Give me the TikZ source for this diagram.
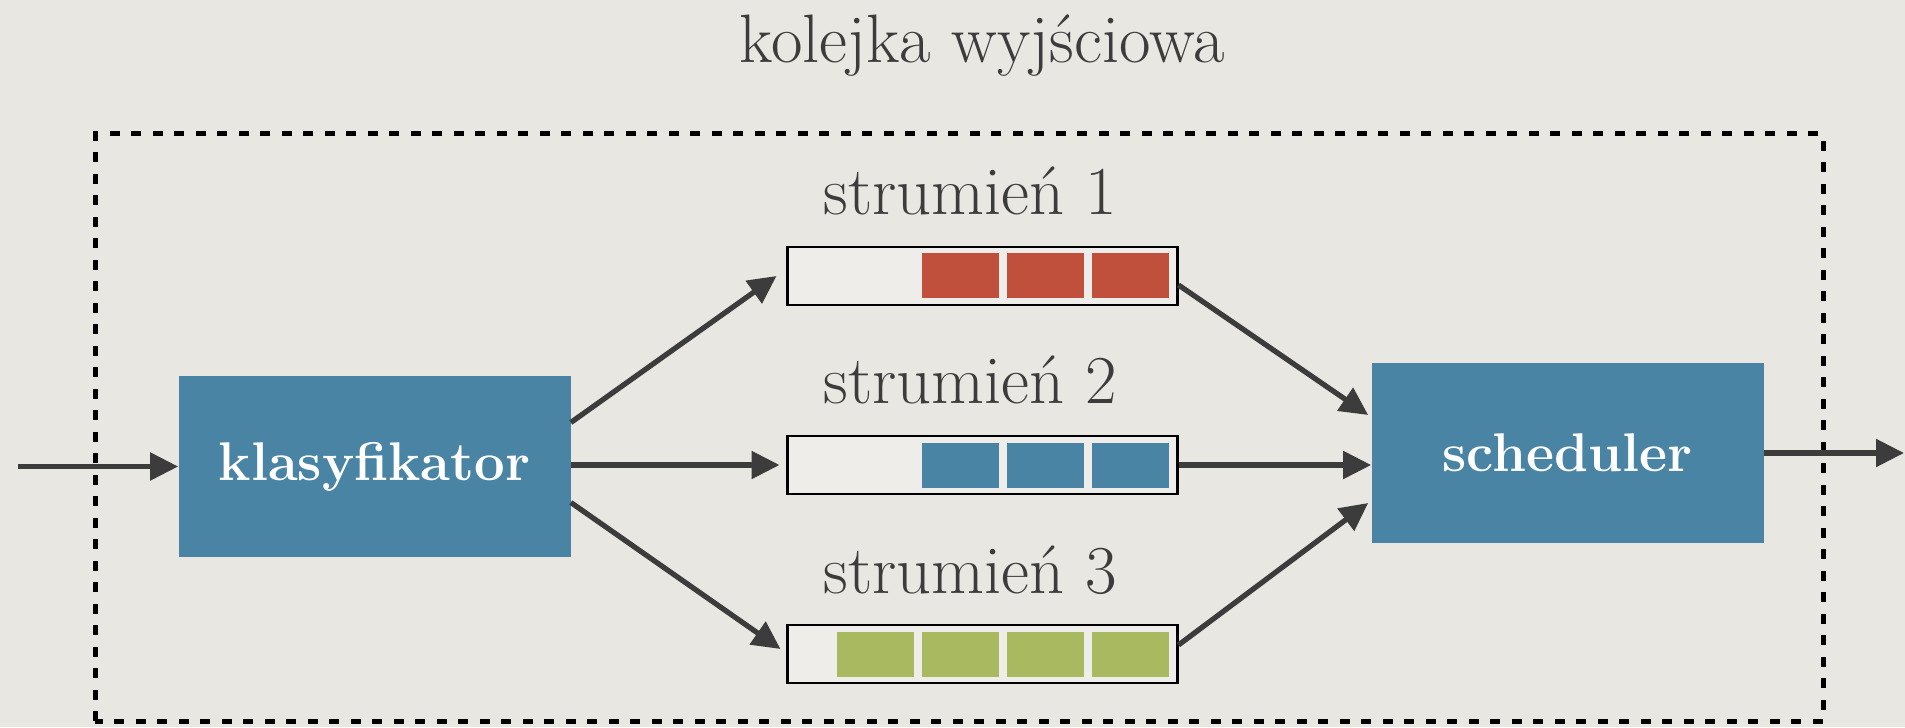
\documentclass[tikz,border=0pt]{standalone}
\usepackage{fontspec}
\usetikzlibrary{arrows.meta}

\definecolor{paper}{RGB}{233,231,226}
\definecolor{slot}{RGB}{238,237,233}
\definecolor{boxblue}{RGB}{74,132,165}
\definecolor{pktred}{RGB}{192,80,60}
\definecolor{pktgreen}{RGB}{168,185,95}
\definecolor{ink}{RGB}{60,60,60}

\begin{document}
\begin{tikzpicture}
    \tikzset{box/.style=   {fill=boxblue,
                            text=white,
                            font=\bfseries\fontsize{31}{36}\selectfont,
                            minimum width=7.84cm,
                            minimum height=3.6cm,
                            inner sep=0pt},
             queue/.style= {draw=black,
                            fill=slot,
                            line width=1.7pt,
                            minimum width=7.8cm,
                            minimum height=1.16cm,
                            inner sep=0pt},
             packet/.style={minimum width=1.54cm,
                            minimum height=0.9cm,
                            inner sep=0pt},
             txt/.style=   {text=ink,
                            anchor=base,
                            font=\fontsize{39}{46}\selectfont},
             conn/.style=  {draw=ink,
                            line width=3pt,
                            -{Triangle[length=0.56cm,width=0.54cm]}},
             frame/.style= {draw=black,
                            line width=0.1cm,
                            dash pattern=on 0.2cm off 0.23cm},
            }
    % paper and outer frame
    \fill[paper] (0,0) rectangle (38.1,14.54);
    \useasboundingbox (0,0) rectangle (38.1,14.54);
    \draw[frame] (1.9,0.12) rectangle (36.46,11.86);

    \path
    (19.64,13.28) node[txt](title) {kolejka wyjściowa}
    (7.49,5.21)   node[box](k) {klasyfikator}
    (31.35,5.48)  node[box](s) {scheduler}
    (19.64,9.02)  node[queue](q1) {}
    (19.64,5.24)  node[queue](q2) {}
    (19.64,1.46)  node[queue](q3) {}
    (19.4,10.24)  node[txt](t1) {strumień 1}
    (19.4,6.48)   node[txt](t2) {strumień 2}
    (19.4,2.68)   node[txt](t3) {strumień 3}
    (0.36,5.21)   coordinate(in)
    (38.08,5.48)  coordinate(out)
    ;
    % packets waiting in each queue
    \foreach \k in {0,1,2}
        \path (22.6-1.7*\k,9.02) node[packet,fill=pktred](p1\k) {};
    \foreach \k in {0,1,2}
        \path (22.6-1.7*\k,5.24) node[packet,fill=boxblue](p2\k) {};
    \foreach \k in {0,1,2,3}
        \path (22.6-1.7*\k,1.46) node[packet,fill=pktgreen](p3\k) {};

    \draw[conn] (in) -- (k);
    \draw[conn] ([yshift=0.88cm]k.east) -- ([xshift=-0.18cm]q1.west);
    \draw[conn] (k.east |- q2.west) -- ([xshift=-0.12cm]q2.west);
    \draw[conn] ([yshift=-0.72cm]k.east) -- ([xshift=-0.1cm,yshift=0.1cm]q3.west);
    \draw[conn] ([yshift=-0.18cm]q1.east) -- ([xshift=-0.06cm,yshift=0.76cm]s.west);
    \draw[conn] (q2.east) -- (q2.east -| s.west);
    \draw[conn] ([yshift=0.18cm]q3.east) -- ([xshift=-0.06cm,yshift=-1cm]s.west);
    \draw[conn] (s) -- (out);
\end{tikzpicture}
\end{document}
